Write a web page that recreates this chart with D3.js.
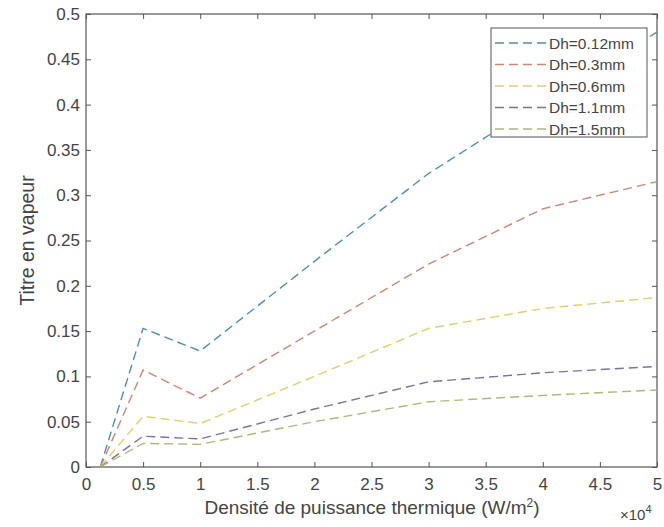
<!DOCTYPE html>
<html>
<head>
<meta charset="utf-8">
<script src="https://cdn.jsdelivr.net/npm/d3@7"></script>
<style>
  html, body { margin: 0; padding: 0; background: #fff; }
  svg { display: block; font-family: "Liberation Sans", Arial, sans-serif; }
</style>
</head>
<body>
<svg id="chart" width="664" height="527"></svg>
<script>
// Heat flux density (W/m²) at which the vapour quality was computed
const fluxValues = [1250, 5000, 10000, 20000, 30000, 40000, 50000];

// Vapour quality per hydraulic diameter
const seriesNames = ["Dh=0.12mm", "Dh=0.3mm", "Dh=0.6mm", "Dh=1.1mm", "Dh=1.5mm"];
const qualityDh012 = [0, 0.153, 0.128, 0.227, 0.324, 0.404, 0.480];
const qualityDh03  = [0, 0.107, 0.076, 0.150, 0.224, 0.285, 0.315];
const qualityDh06  = [0, 0.056, 0.048, 0.100, 0.153, 0.175, 0.187];
const qualityDh11  = [0, 0.034, 0.031, 0.064, 0.094, 0.104, 0.111];
const qualityDh15  = [0, 0.026, 0.025, 0.050, 0.072, 0.079, 0.085];

const xTicks = [0, 5000, 10000, 15000, 20000, 25000, 30000, 35000, 40000, 45000, 50000];
const yTicks = [0, 0.05, 0.1, 0.15, 0.2, 0.25, 0.3, 0.35, 0.4, 0.45, 0.5];

const seriesColors = ["#4f8fae", "#cd8672", "#e2cf68", "#80709c", "#a9bb79"];

const series = seriesNames.map((name, i) => ({
  name,
  color: seriesColors[i],
  values: [qualityDh012, qualityDh03, qualityDh06, qualityDh11, qualityDh15][i]
    .map((q, j) => ({ x: fluxValues[j], y: q }))
}));

const svg = d3.select("#chart");
const plot = { left: 86, right: 657, top: 14, bottom: 467 };
const axisColor = "#555";
const textColor = "#444";

const x = d3.scaleLinear().domain([0, 50000]).range([plot.left, plot.right]);
const y = d3.scaleLinear().domain([0, 0.5]).range([plot.bottom, plot.top]);

const fmtX = d => d3.format("~g")(d / 10000);
const fmtY = d => d3.format("~g")(d);

function styleAxis(g, showLabels) {
  g.select(".domain").remove();
  g.selectAll(".tick line").attr("stroke", axisColor).attr("stroke-width", 1);
  g.selectAll(".tick text")
    .attr("fill", textColor)
    .style("font-size", "17px")
    .style("display", showLabels ? null : "none");
}

// Bottom and top axes (ticks pointing inward)
svg.append("g")
  .attr("transform", `translate(0,${plot.bottom})`)
  .call(d3.axisBottom(x).tickValues(xTicks).tickFormat(fmtX).tickSizeInner(-5).tickSizeOuter(0).tickPadding(11))
  .call(g => styleAxis(g, true));
svg.append("g")
  .attr("transform", `translate(0,${plot.top})`)
  .call(d3.axisTop(x).tickValues(xTicks).tickSizeInner(-5).tickSizeOuter(0))
  .call(g => styleAxis(g, false));

// Left and right axes
svg.append("g")
  .attr("transform", `translate(${plot.left},0)`)
  .call(d3.axisLeft(y).tickValues(yTicks).tickFormat(fmtY).tickSizeInner(-5).tickSizeOuter(0).tickPadding(6))
  .call(g => styleAxis(g, true));
svg.append("g")
  .attr("transform", `translate(${plot.right},0)`)
  .call(d3.axisRight(y).tickValues(yTicks).tickSizeInner(-5).tickSizeOuter(0))
  .call(g => styleAxis(g, false));

// Plot box
svg.append("rect")
  .attr("x", plot.left).attr("y", plot.top)
  .attr("width", plot.right - plot.left).attr("height", plot.bottom - plot.top)
  .attr("fill", "none").attr("stroke", axisColor).attr("stroke-width", 1.2);

// Dashed curves
const line = d3.line().x(d => x(d.x)).y(d => y(d.y));
svg.append("g").selectAll("path")
  .data(series)
  .join("path")
  .attr("d", d => line(d.values))
  .attr("fill", "none")
  .attr("stroke", d => d.color)
  .attr("stroke-width", 1.4)
  .attr("stroke-dasharray", "9,5");

// Axis titles
svg.append("text")
  .attr("x", 372).attr("y", 514)
  .attr("text-anchor", "middle")
  .attr("fill", textColor)
  .style("font-size", "19px")
  .html('Densité de puissance thermique (W/m<tspan dy="-7" font-size="12px">2</tspan><tspan dy="7">)</tspan>');

svg.append("text")
  .attr("transform", `translate(34,${(plot.top + plot.bottom) / 2}) rotate(-90)`)
  .attr("text-anchor", "middle")
  .attr("fill", textColor)
  .style("font-size", "19.5px")
  .text("Titre en vapeur");

// Exponent marker for the x axis
svg.append("text")
  .attr("x", 620).attr("y", 520)
  .attr("fill", textColor)
  .style("font-size", "15px")
  .html('×10<tspan dy="-7" font-size="11px">4</tspan>');

// Legend
const legend = { x: 491, y: 28, w: 156, h: 109, rowH: 21.5 };
svg.append("rect")
  .attr("x", legend.x).attr("y", legend.y)
  .attr("width", legend.w).attr("height", legend.h)
  .attr("fill", "#fff").attr("stroke", axisColor).attr("stroke-width", 1);

const rows = svg.append("g").selectAll("g")
  .data(series)
  .join("g")
  .attr("transform", (d, i) => `translate(${legend.x},${legend.y + 15 + i * legend.rowH})`);
rows.append("line")
  .attr("x1", 4).attr("x2", 56)
  .attr("stroke", d => d.color)
  .attr("stroke-width", 1.4)
  .attr("stroke-dasharray", "9,5");
rows.append("text")
  .attr("x", 58).attr("y", 5.5)
  .attr("fill", textColor)
  .style("font-size", "15.5px")
  .text(d => d.name);
</script>
</body>
</html>
